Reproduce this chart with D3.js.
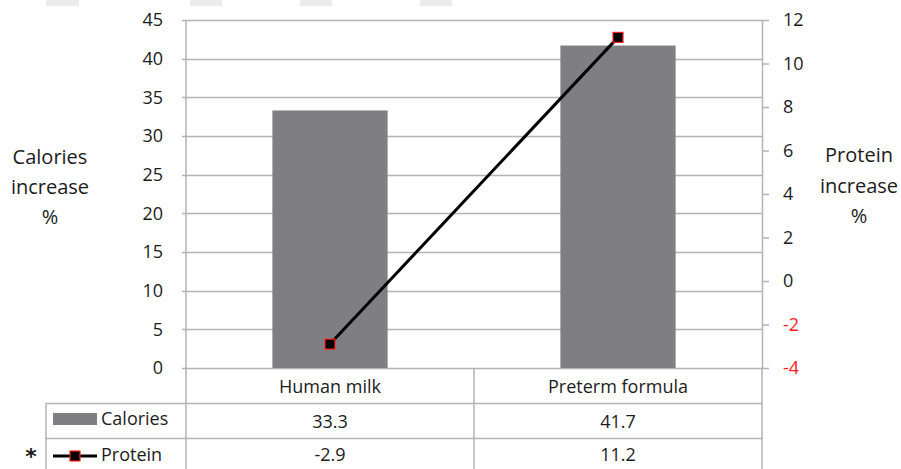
<!DOCTYPE html>
<html lang="en">
<head>
<meta charset="UTF-8">
<title>Calories and protein increase</title>
<script src="https://d3js.org/d3.v7.min.js"></script>
<style>
  body { margin: 0; background: #fff; }
  svg text { font-family: "Open Sans", Lato, sans-serif; fill: #1c1c1c; }
</style>
</head>
<body>
<svg id="chart" width="901" height="469"></svg>
<script>
const categories = ["Human milk", "Preterm formula"];
const calories = [33.3, 41.7];
const protein = [-2.9, 11.2];
const leftTicks = [0, 5, 10, 15, 20, 25, 30, 35, 40, 45];
const rightTicks = [-4, -2, 0, 2, 4, 6, 8, 10, 12];

const svg = d3.select("#chart");
const plot = {left: 186, right: 762, top: 20, bottom: 368};
const rowY = [368, 403, 438, 473];
const tableLeft = 46;
const grid = "#b4b4b4";

// faint cropped artifacts at the top edge
[[46, 79], [190, 222], [300, 332], [420, 452]].forEach(([a, b]) => {
  svg.append("rect").attr("x", a).attr("y", 0).attr("width", b - a).attr("height", 6).attr("fill", "#ececec");
});

const x = d3.scaleBand().domain(categories).range([plot.left, plot.right]).paddingInner(0).paddingOuter(0);
const yL = d3.scaleLinear().domain([0, 45]).range([plot.bottom, plot.top]);
const yR = d3.scaleLinear().domain([-4, 12]).range([plot.bottom, plot.top]);

// gridlines
svg.append("g").selectAll("line").data(leftTicks).join("line")
  .attr("x1", plot.left - 4).attr("x2", plot.right)
  .attr("y1", d => Math.round(yL(d)) + 0.5).attr("y2", d => Math.round(yL(d)) + 0.5)
  .attr("stroke", grid).attr("stroke-width", 1.5);

// left tick labels
svg.append("g").selectAll("text").data(leftTicks).join("text")
  .attr("x", 163).attr("y", d => yL(d)).attr("dy", "0.35em")
  .attr("text-anchor", "end").attr("font-size", 18).text(d => d);

// right axis
const rAxis = svg.append("g").attr("transform", `translate(${plot.right},0)`)
  .call(d3.axisRight(yR).tickValues(rightTicks).tickFormat(d => String(d)).tickSize(7).tickPadding(14).tickSizeOuter(0));
rAxis.select(".domain").attr("stroke", grid).attr("stroke-width", 1.5);
rAxis.selectAll(".tick line").attr("stroke", grid).attr("stroke-width", 1.5);
rAxis.selectAll(".tick text").attr("font-size", 18)
  .style("font-family", "'Open Sans', Lato, sans-serif")
  .style("fill", d => d < 0 ? "#ff2020" : "#1c1c1c");

// bars
const barW = x.bandwidth() * 0.4;
svg.append("g").selectAll("rect").data(categories).join("rect")
  .attr("x", d => x(d) + (x.bandwidth() - barW) / 2)
  .attr("width", barW)
  .attr("y", (d, i) => yL(calories[i]))
  .attr("height", (d, i) => plot.bottom - yL(calories[i]))
  .attr("fill", "#7f7f83");

// protein line
const cx = d => x(d) + x.bandwidth() / 2;
svg.append("path")
  .datum(categories)
  .attr("fill", "none").attr("stroke", "#000").attr("stroke-width", 3)
  .attr("d", d3.line().x(cx).y((d, i) => yR(protein[i])));
svg.append("g").selectAll("rect").data(categories).join("rect")
  .attr("x", d => cx(d) - 5).attr("y", (d, i) => yR(protein[i]) - 5)
  .attr("width", 10).attr("height", 10)
  .attr("fill", "#000").attr("stroke", "#ff2020").attr("stroke-width", 1.2);

// data table
const t = svg.append("g").attr("stroke", grid).attr("stroke-width", 1.5);
t.append("line").attr("x1", plot.left).attr("x2", plot.left).attr("y1", plot.top).attr("y2", 469);
t.append("line").attr("x1", x(categories[1])).attr("x2", x(categories[1])).attr("y1", plot.bottom).attr("y2", 469);
t.append("line").attr("x1", plot.right).attr("x2", plot.right).attr("y1", plot.bottom).attr("y2", 469);
t.append("line").attr("x1", tableLeft).attr("x2", tableLeft).attr("y1", rowY[1]).attr("y2", 469);
[rowY[1], rowY[2]].forEach(yy => {
  t.append("line").attr("x1", tableLeft).attr("x2", plot.right).attr("y1", yy + 0.5).attr("y2", yy + 0.5);
});

svg.append("g").selectAll("text").data(categories).join("text")
  .attr("x", cx).attr("y", (rowY[0] + rowY[1]) / 2 + 1).attr("dy", "0.35em")
  .attr("text-anchor", "middle").attr("font-size", 18).text(d => d);
svg.append("g").selectAll("text").data(calories).join("text")
  .attr("x", (d, i) => cx(categories[i])).attr("y", (rowY[1] + rowY[2]) / 2 + 1).attr("dy", "0.35em")
  .attr("text-anchor", "middle").attr("font-size", 18).text(d => d.toFixed(1));
svg.append("g").selectAll("text").data(protein).join("text")
  .attr("x", (d, i) => cx(categories[i])).attr("y", 455).attr("dy", "0.35em")
  .attr("text-anchor", "middle").attr("font-size", 18).text(d => d.toFixed(1));

// legend keys
svg.append("rect").attr("x", 53).attr("y", 413).attr("width", 44).attr("height", 12).attr("fill", "#7f7f83");
svg.append("text").attr("x", 101).attr("y", 419).attr("dy", "0.35em").attr("font-size", 18).text("Calories");
svg.append("line").attr("x1", 53).attr("x2", 97).attr("y1", 456).attr("y2", 456).attr("stroke", "#000").attr("stroke-width", 3);
svg.append("rect").attr("x", 70).attr("y", 451).attr("width", 10).attr("height", 10)
  .attr("fill", "#000").attr("stroke", "#ff2020").attr("stroke-width", 1.2);
svg.append("text").attr("x", 101).attr("y", 455).attr("dy", "0.35em").attr("font-size", 18).text("Protein");
svg.append("text").attr("x", 31).attr("y", 464).attr("text-anchor", "middle")
  .style("font-family", "'DejaVu Sans', sans-serif")
  .attr("font-size", 22).attr("font-weight", "bold").text("*");

// axis titles
[["Calories", 157], ["increase", 187], ["%", 217]].forEach(([s, yy]) => {
  svg.append("text").attr("x", 50).attr("y", yy).attr("dy", "0.35em").attr("text-anchor", "middle")
    .attr("font-size", 20).text(s);
});
[["Protein", 155], ["increase", 186], ["%", 216]].forEach(([s, yy]) => {
  svg.append("text").attr("x", 859).attr("y", yy).attr("dy", "0.35em").attr("text-anchor", "middle")
    .attr("font-size", 20).text(s);
});
</script>
</body>
</html>
